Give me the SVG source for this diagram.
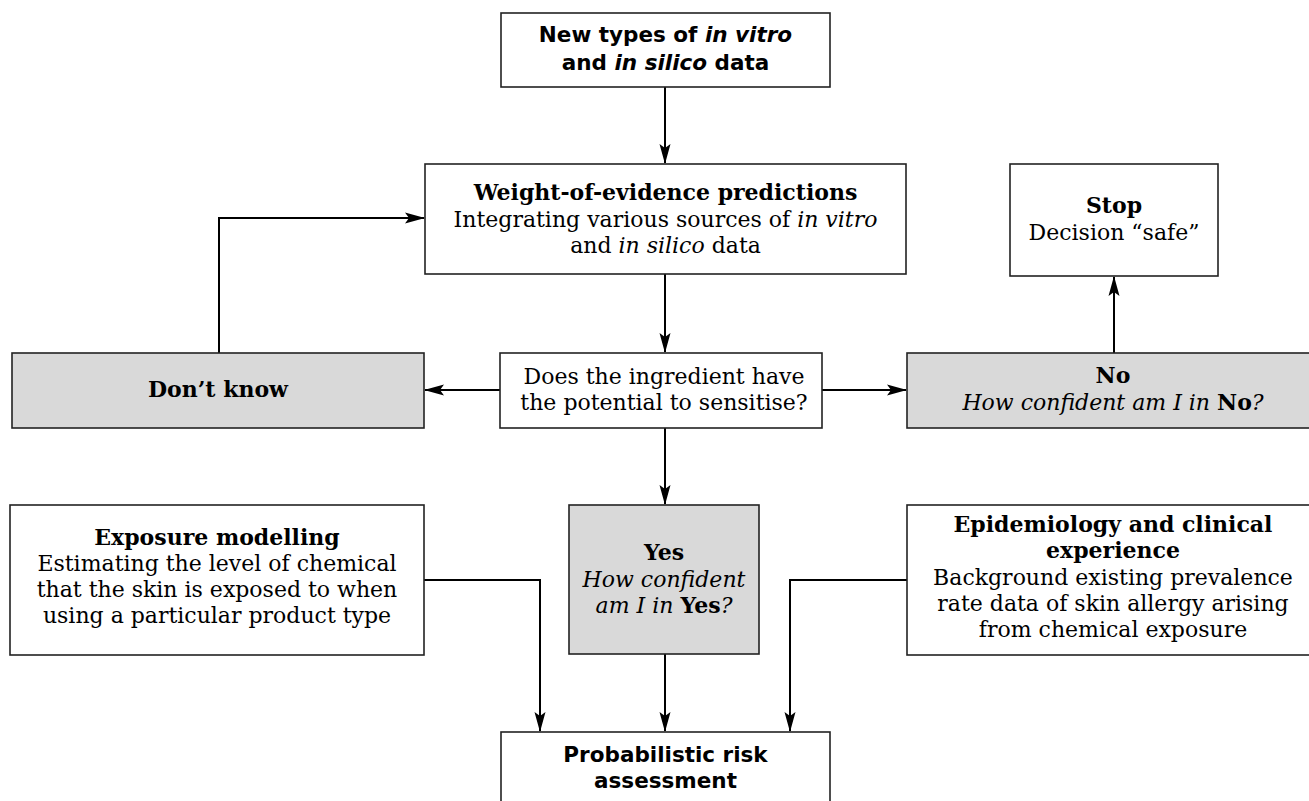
<svg xmlns="http://www.w3.org/2000/svg" width="1309" height="801" viewBox="0 0 1309 801">
<defs>
<marker id="ah" markerWidth="20" markerHeight="12" refX="19" refY="6" orient="auto" markerUnits="userSpaceOnUse">
<path d="M0,0.5 L20,6 L0,11.5 L4,6 Z" fill="#000"/>
</marker>
</defs>
<style>
.box{fill:#fff;stroke:#222;stroke-width:1.6}
.grey{fill:#d9d9d9;stroke:#222;stroke-width:1.6}
.sans{font-family:"DejaVu Sans","Open Sans",sans-serif;font-weight:700;font-size:21.5px;fill:#000;text-anchor:middle}
.serif{font-family:"DejaVu Serif","Liberation Serif",serif;font-size:22px;fill:#000;text-anchor:middle}
.b{font-weight:700}
.i{font-style:italic}
.con{fill:none;stroke:#000;stroke-width:2;marker-end:url(#ah)}
</style>
<rect width="1309" height="801" fill="#fff"/>
<g id="connectors">
<path class="con" d="M665,87 V163"/>
<path class="con" d="M665,274 V352"/>
<path class="con" d="M500,390 H425"/>
<path class="con" d="M822,390 H906"/>
<path class="con" d="M219,353 V218 H424"/>
<path class="con" d="M1114,353 V277"/>
<path class="con" d="M665,428 V504"/>
<path class="con" d="M424,580 H540 V731"/>
<path class="con" d="M665,654 V731"/>
<path class="con" d="M907,580 H790 V731"/>
</g>
<g id="new-data">
<rect class="box" x="501" y="13" width="329" height="74"/>
<text class="sans" x="665.5" y="42">New types of <tspan class="i">in vitro</tspan></text>
<text class="sans" x="665.5" y="70">and <tspan class="i">in silico</tspan> data</text>
</g>
<g id="weight-of-evidence">
<rect class="box" x="425" y="164" width="481" height="110"/>
<text class="serif b" x="665.5" y="200">Weight-of-evidence predictions</text>
<text class="serif" x="665.5" y="227">Integrating various sources of <tspan class="i">in vitro</tspan></text>
<text class="serif" x="665.5" y="253">and <tspan class="i">in silico</tspan> data</text>
</g>
<g id="stop">
<rect class="box" x="1010" y="164" width="208" height="112"/>
<text class="serif b" x="1114" y="213">Stop</text>
<text class="serif" x="1114" y="240">Decision “safe”</text>
</g>
<g id="dont-know">
<rect class="grey" x="12" y="353" width="412" height="75"/>
<text class="serif b" x="218" y="397">Don’t know</text>
</g>
<g id="question">
<rect class="box" x="500" y="353" width="322" height="75"/>
<text class="serif" x="664" y="384">Does the ingredient have</text>
<text class="serif" x="664" y="410">the potential to sensitise?</text>
</g>
<g id="no">
<rect class="grey" x="907" y="353" width="415" height="75"/>
<text class="serif b" x="1113" y="383">No</text>
<text class="serif" x="1113" y="410"><tspan class="i">How confident am I in </tspan><tspan class="b">No</tspan><tspan class="i">?</tspan></text>
</g>
<g id="exposure">
<rect class="box" x="10" y="505" width="414" height="150"/>
<text class="serif b" x="217" y="545">Exposure modelling</text>
<text class="serif" x="217" y="571">Estimating the level of chemical</text>
<text class="serif" x="217" y="597">that the skin is exposed to when</text>
<text class="serif" x="217" y="623">using a particular product type</text>
</g>
<g id="yes">
<rect class="grey" x="569" y="505" width="190" height="149"/>
<text class="serif b" x="664" y="560">Yes</text>
<text class="serif i" x="664" y="587">How confident</text>
<text class="serif" x="664" y="613"><tspan class="i">am I in </tspan><tspan class="b">Yes</tspan><tspan class="i">?</tspan></text>
</g>
<g id="epidemiology">
<rect class="box" x="907" y="505" width="415" height="150"/>
<text class="serif b" x="1113" y="532">Epidemiology and clinical</text>
<text class="serif b" x="1113" y="558">experience</text>
<text class="serif" x="1113" y="585">Background existing prevalence</text>
<text class="serif" x="1113" y="611">rate data of skin allergy arising</text>
<text class="serif" x="1113" y="637">from chemical exposure</text>
</g>
<g id="probabilistic">
<rect class="box" x="501" y="732" width="329" height="75"/>
<text class="sans" x="665.5" y="762">Probabilistic risk</text>
<text class="sans" x="665.5" y="788">assessment</text>
</g>
</svg>
